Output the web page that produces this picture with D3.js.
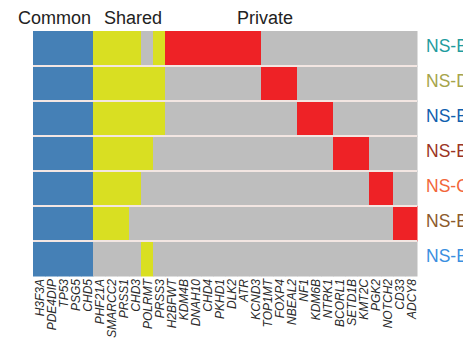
<!DOCTYPE html>
<html>
<head>
<meta charset="utf-8">
<script src="https://cdn.jsdelivr.net/npm/d3@7"></script>
<style>
  body { margin: 0; background: #fff; }
  svg { display: block; }
</style>
</head>
<body>
<svg id="chart" width="463" height="344"></svg>
<script>
// genes along the x axis, left to right
const genes = ['H3F3A', 'PDE4DIP', 'TP53', 'PSG5', 'CHD5',
  'PHF21A', 'SMARCC2', 'PRSS1', 'CHD3', 'POLRMT', 'PRSS3',
  'H2BFWT', 'KDM4B', 'DNAH10', 'CHD4', 'PKHD1', 'DLK2', 'ATR', 'KCND3',
  'TOP1MT', 'FOXP4', 'NBEAL2', 'NF1', 'KDM6B', 'NTRK1',
  'BCORL1', 'SETD1B', 'KMT2C', 'PGK2', 'NOTCH2', 'CD33', 'ADCY8']
const commonGenes = ['H3F3A', 'PDE4DIP', 'TP53', 'PSG5', 'CHD5']
const sharedGenes = ['PHF21A', 'SMARCC2', 'PRSS1', 'CHD3', 'POLRMT', 'PRSS3']

const samples = ['NS-B1', 'NS-D1', 'NS-B2', 'NS-B3', 'NS-C1', 'NS-B4', 'NS-B5']
const sampleColors = ['#1f9c9e', '#a6a44a', '#1060ae', '#9b3424', '#f2663a', '#8c5a2c', '#3a8fe0']

// shared mutations found in each sample
const sharedHits = [
  ['PHF21A', 'SMARCC2', 'PRSS1', 'CHD3', 'PRSS3'],
  ['PHF21A', 'SMARCC2', 'PRSS1', 'CHD3', 'POLRMT', 'PRSS3'],
  ['PHF21A', 'SMARCC2', 'PRSS1', 'CHD3', 'POLRMT', 'PRSS3'],
  ['PHF21A', 'SMARCC2', 'PRSS1', 'CHD3', 'POLRMT'],
  ['PHF21A', 'SMARCC2', 'PRSS1', 'CHD3'],
  ['PHF21A', 'SMARCC2', 'PRSS1'],
  ['POLRMT']
]
// private mutations of each sample
const privateHits = [
  ['H2BFWT', 'KDM4B', 'DNAH10', 'CHD4', 'PKHD1', 'DLK2', 'ATR', 'KCND3'],
  ['TOP1MT', 'FOXP4', 'NBEAL2'],
  ['NF1', 'KDM6B', 'NTRK1'],
  ['BCORL1', 'SETD1B', 'KMT2C'],
  ['PGK2', 'NOTCH2'],
  ['CD33', 'ADCY8'],
  []
]

const groupLabels = ['Common', 'Shared', 'Private']

const svg = d3.select('#chart')
const x = d3.scaleBand().domain(genes).range([33, 417])
const y = d3.scaleBand().domain(samples).range([31, 276])

function cell_color (gene, i) {
  if (commonGenes.includes(gene)) return '#4580b6'
  if (sharedGenes.includes(gene)) {
    return sharedHits[i].includes(gene) ? '#d9df22' : '#bebebe'
  }
  return privateHits[i].includes(gene) ? '#ee2226' : '#bebebe'
}

const cells = []
samples.forEach((s, i) => {
  genes.forEach(g => cells.push({ sample: s, gene: g, color: cell_color(g, i) }))
})

svg.append('g')
  .selectAll('rect')
  .data(cells)
  .enter()
  .append('rect')
  .attr('x', d => x(d.gene))
  .attr('y', d => y(d.sample))
  .attr('width', x.bandwidth() + 0.5)
  .attr('height', y.bandwidth() + 0.5)
  .attr('fill', d => d.color)

// light separators between rows
svg.append('g')
  .selectAll('line')
  .data(samples.slice(1))
  .enter()
  .append('line')
  .attr('x1', x.range()[0])
  .attr('x2', x.range()[1])
  .attr('y1', d => y(d))
  .attr('y2', d => y(d))
  .attr('stroke', '#f3e6e2')
  .attr('stroke-width', 2)

// sample names on the right (clipped by the figure edge, as in the original)
svg.append('g')
  .selectAll('text')
  .data(samples)
  .enter()
  .append('text')
  .attr('x', 426)
  .attr('y', d => y(d) + y.bandwidth() / 2 - 3)
  .attr('dy', '0.36em')
  .attr('font-family', 'Liberation Sans, Arial, sans-serif')
  .attr('font-size', 17.5)
  .attr('fill', (d, i) => sampleColors[i])
  .text(d => d)

// gene labels, rotated
svg.append('g')
  .selectAll('text')
  .data(genes)
  .enter()
  .append('text')
  .attr('transform', d => 'translate(' + (x(d) + x.bandwidth() / 2 + 4.5) + ',279) rotate(-90)')
  .attr('text-anchor', 'end')
  .attr('font-family', 'Liberation Sans, Arial, sans-serif')
  .attr('font-style', 'italic')
  .attr('font-size', 12)
  .attr('fill', '#2a2a2a')
  .text(d => d)

// group headers
const headerX = [18, 104, 237]
svg.append('g')
  .selectAll('text')
  .data(groupLabels)
  .enter()
  .append('text')
  .attr('x', (d, i) => headerX[i])
  .attr('y', 24)
  .attr('font-family', 'Liberation Sans, Arial, sans-serif')
  .attr('font-size', 18)
  .attr('fill', '#222')
  .text(d => d)
</script>
</body>
</html>
